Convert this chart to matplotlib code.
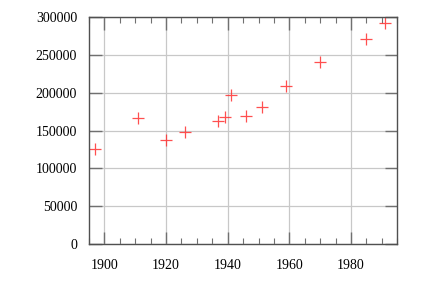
import matplotlib
matplotlib.use('Agg')
import matplotlib.pyplot as plt
from matplotlib.ticker import MultipleLocator

# dati
anni = [1897, 1911, 1920, 1926, 1937, 1939, 1941, 1946, 1951, 1959, 1970, 1985, 1991]
popolazione = [125300, 166300, 137600, 148000, 162800, 168500, 196800, 170000,
               181800, 208700, 241300, 271700, 292900]

plt.rcParams['font.family'] = 'serif'
plt.rcParams['font.serif'] = ['Liberation Serif', 'DejaVu Serif']

fig = plt.figure(figsize=(4.25, 2.83), dpi=100)
ax = fig.add_axes([89 / 425, 1 - 244 / 283, (397.3 - 89) / 425, (244 - 17.3) / 283])

ax.plot(anni, popolazione, linestyle='none', marker='+', markersize=9,
        markeredgewidth=0.9, color='#ff3030', alpha=0.85)

ax.set_xlim(1895, 1995)
ax.set_ylim(0, 300000)
ax.xaxis.set_major_locator(MultipleLocator(20))
ax.xaxis.set_minor_locator(MultipleLocator(5))
ax.yaxis.set_major_locator(MultipleLocator(50000))

ax.grid(True, which='major', color='#c8c8c8', linewidth=0.9)
ax.set_axisbelow(True)
for s in ax.spines.values():
    s.set_color('#505050')
    s.set_linewidth(1.0)

ax.tick_params(which='both', direction='in', top=True, right=True,
               color='#707070', labelsize=10)
ax.tick_params(which='major', length=9, width=1.0)
ax.tick_params(which='minor', length=4, width=0.8)
ax.tick_params(axis='x', pad=11)
ax.tick_params(axis='y', pad=8.5)

fig.savefig('out.png', dpi=100)
